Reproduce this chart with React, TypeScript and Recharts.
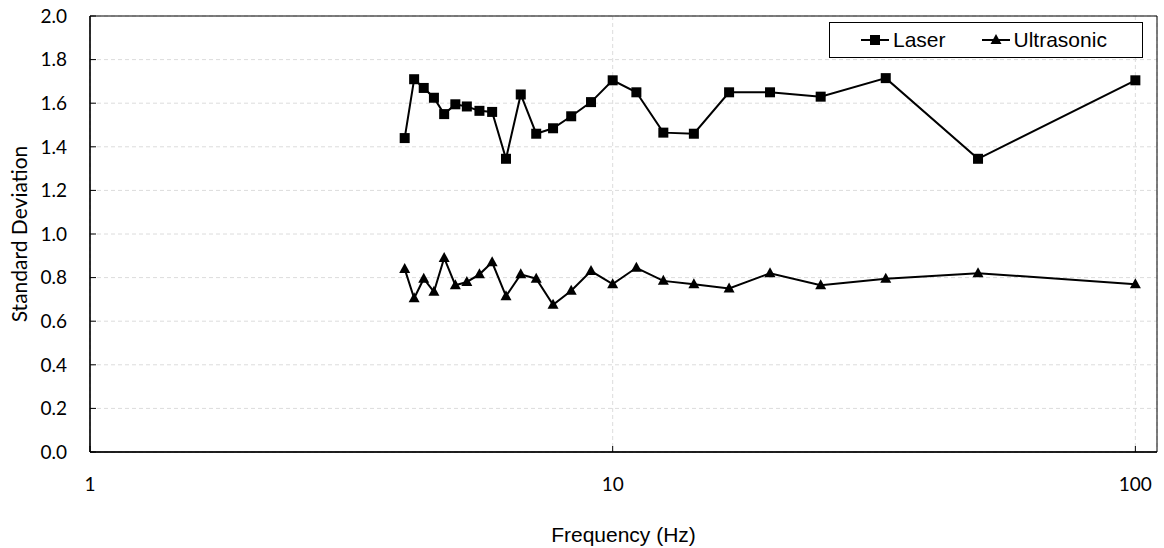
import React from 'react';
import { LineChart, Line, XAxis, YAxis, CartesianGrid, Legend, ReferenceArea } from 'recharts';

// frequency (Hz) of each measurement
const frequencies = [
  4.0, 4.17, 4.35, 4.55, 4.76, 5.0, 5.26, 5.56, 5.88, 6.25, 6.67, 7.14, 7.69,
  8.33, 9.09, 10, 11.1, 12.5, 14.3, 16.7, 20, 25, 33.3, 50, 100,
];
const laser = [
  1.44, 1.71, 1.67, 1.625, 1.55, 1.595, 1.585, 1.565, 1.56, 1.345, 1.64, 1.46, 1.485,
  1.54, 1.605, 1.705, 1.65, 1.465, 1.46, 1.65, 1.65, 1.63, 1.715, 1.345, 1.705,
];
const ultrasonic = [
  0.84, 0.705, 0.795, 0.735, 0.89, 0.765, 0.78, 0.815, 0.87, 0.715, 0.815, 0.795, 0.675,
  0.74, 0.83, 0.77, 0.845, 0.785, 0.77, 0.75, 0.82, 0.765, 0.795, 0.82, 0.77,
];
const xTicks = [1, 10, 100];
const yTicks = [0, 0.2, 0.4, 0.6, 0.8, 1.0, 1.2, 1.4, 1.6, 1.8, 2.0];

const data = frequencies.map((f, i) => ({ f, laser: laser[i], ultrasonic: ultrasonic[i] }));

const tickFont = { fill: '#000', fontSize: 19, fontFamily: 'Lato' };

const SquareDot = (props: any) => {
  const { cx, cy, index } = props;
  if (cx == null || cy == null) return null;
  return <rect key={`sq-${index}`} x={cx - 5} y={cy - 5} width={10} height={10} fill="#000" />;
};

const TriangleDot = (props: any) => {
  const { cx, cy, index } = props;
  if (cx == null || cy == null) return null;
  return (
    <polygon
      key={`tri-${index}`}
      points={`${cx},${cy - 6} ${cx - 5.5},${cy + 4} ${cx + 5.5},${cy + 4}`}
      fill="#000"
    />
  );
};

const LegendIcon = ({ kind }: { kind: string }) => (
  <svg width={28} height={12} style={{ display: 'block' }}>
    <line x1={0} y1={6} x2={28} y2={6} stroke="#000" strokeWidth={2} />
    {kind === 'square' ? (
      <rect x={9} y={1} width={10} height={10} fill="#000" />
    ) : (
      <polygon points="14,0 8.5,10 19.5,10" fill="#000" />
    )}
  </svg>
);

const renderLegend = () => (
  <div
    style={{
      height: 36,
      boxSizing: 'border-box',
      border: '1px solid #000',
      background: '#fff',
      display: 'flex',
      alignItems: 'center',
      paddingLeft: 31,
      fontFamily: '"Liberation Sans", Arial, sans-serif',
      fontSize: 21,
      color: '#000',
    }}
  >
    <LegendIcon kind="square" />
    <span style={{ marginLeft: 4, marginRight: 36 }}>Laser</span>
    <LegendIcon kind="triangle" />
    <span style={{ marginLeft: 4 }}>Ultrasonic</span>
  </div>
);

export default function App() {
  return (
    <div style={{ position: 'absolute', left: 0, top: 0, background: '#fff' }}>
      <LineChart width={1164} height={548} data={data} margin={{ top: 16, right: 7, bottom: 0, left: 0 }}>
        <CartesianGrid stroke="#dcdcdc" strokeDasharray="4 3" />
        <ReferenceArea x1={1} x2={110} y1={0} y2={2} fill="none" stroke="#000" strokeWidth={1} ifOverflow="visible" />
        <XAxis
          dataKey="f"
          type="number"
          scale="log"
          domain={[1, 110]}
          ticks={xTicks}
          allowDataOverflow
          height={96}
          tickSize={-6}
          tickMargin={32}
          axisLine={{ stroke: '#000', strokeWidth: 1.3 }}
          tickLine={{ stroke: '#000' }}
          tick={tickFont}
          label={{
            value: 'Frequency (Hz)',
            position: 'insideBottom',
            offset: 6,
            style: { fill: '#000', fontSize: 21, fontFamily: '"Liberation Sans", Arial, sans-serif' },
          }}
        />
        <YAxis
          type="number"
          domain={[0, 2]}
          ticks={yTicks}
          width={90}
          tickSize={-6}
          tickMargin={29}
          tickFormatter={(v: number) => v.toFixed(1)}
          axisLine={{ stroke: '#000', strokeWidth: 1.3 }}
          tickLine={{ stroke: '#000' }}
          tick={tickFont}
          label={{
            value: 'Standard Deviation',
            angle: -90,
            position: 'insideLeft',
            offset: 20,
            style: { textAnchor: 'middle', fill: '#000', fontSize: 21, fontFamily: 'Lato' },
          }}
        />
        <Legend
          layout="vertical"
          align="center"
          verticalAlign="middle"
          content={renderLegend}
          wrapperStyle={{ position: 'absolute', left: 829, top: 22, width: 314 }}
        />
        <Line
          dataKey="laser"
          name="Laser"
          stroke="#000"
          strokeWidth={2}
          dot={SquareDot}
          activeDot={false}
          isAnimationActive={false}
        />
        <Line
          dataKey="ultrasonic"
          name="Ultrasonic"
          stroke="#000"
          strokeWidth={2}
          dot={TriangleDot}
          activeDot={false}
          isAnimationActive={false}
        />
      </LineChart>
    </div>
  );
}
